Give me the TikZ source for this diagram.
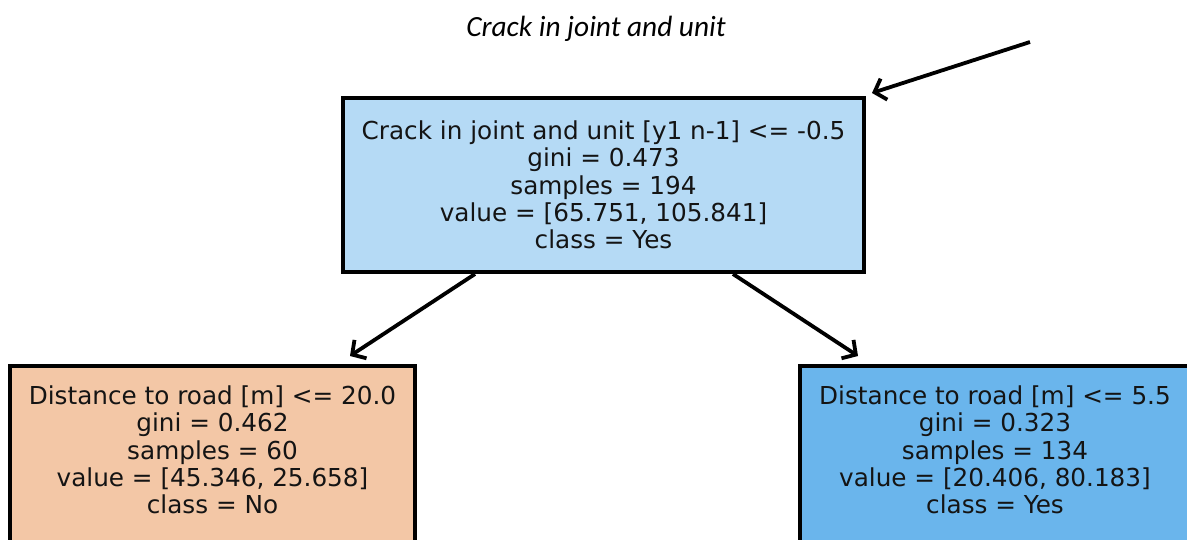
\documentclass[tikz,border=0pt]{standalone}
\usepackage{fontspec}
\setmainfont{DejaVu Sans}
\newfontfamily\titlefont{Carlito}
\usetikzlibrary{arrows.meta,calc}
\definecolor{rootblue}{RGB}{181,218,245}
\definecolor{leftorange}{RGB}{243,199,166}
\definecolor{rightblue}{RGB}{106,181,236}
\tikzset{
  treebox/.style={draw=black, line width=4pt, rectangle, inner sep=0pt},
  boxtext/.style={align=center, inner sep=0pt, font=\fontsize{24.7}{27.3}\selectfont, text=black!92},
  arr/.style={line width=3.8pt, -{Straight Barb[length=10pt,width=22pt,line width=3.8pt]}},
}
\begin{document}
\begin{tikzpicture}[x=1pt,y=-1pt]
\useasboundingbox (0,0) rectangle (1187,539);
\clip (0,0) rectangle (1187,539);
\node[font=\titlefont\itshape\fontsize{29.3}{33}\selectfont] (title) at (596,28.5) {Crack in joint and unit};
\node[treebox, fill=rootblue, minimum width=521pt, minimum height=174pt] (root) at (603.5,185) {};
\node[boxtext] (roottext) at (root.center) {Crack in joint and unit [y1 n-1] <= -0.5\\gini = 0.473\\samples = 194\\value = [65.751, 105.841]\\class = Yes};
\node[treebox, fill=leftorange, minimum width=405pt, minimum height=230pt] (left) at (212.5,481) {};
\node[boxtext] (lefttext) at ([yshift=-86pt]left.north) {Distance to road [m] <= 20.0\\gini = 0.462\\samples = 60\\value = [45.346, 25.658]\\class = No};
\node[treebox, fill=rightblue, minimum width=430pt, minimum height=230pt] (right) at (1015,481) {};
\node[boxtext] (righttext) at ([xshift=-20pt,yshift=-86pt]right.north) {Distance to road [m] <= 5.5\\gini = 0.323\\samples = 134\\value = [20.406, 80.183]\\class = Yes};
\coordinate (src) at (1030,42);
\draw[arr] (src) -- ([xshift=6pt,yshift=3pt]root.north east);
\draw[arr] ([xshift=-128.5pt]root.south) -- ([xshift=137.5pt,yshift=8pt]left.north);
\draw[arr] ([xshift=129.5pt]root.south) -- ([xshift=-157pt,yshift=8pt]right.north);
\end{tikzpicture}
\end{document}
